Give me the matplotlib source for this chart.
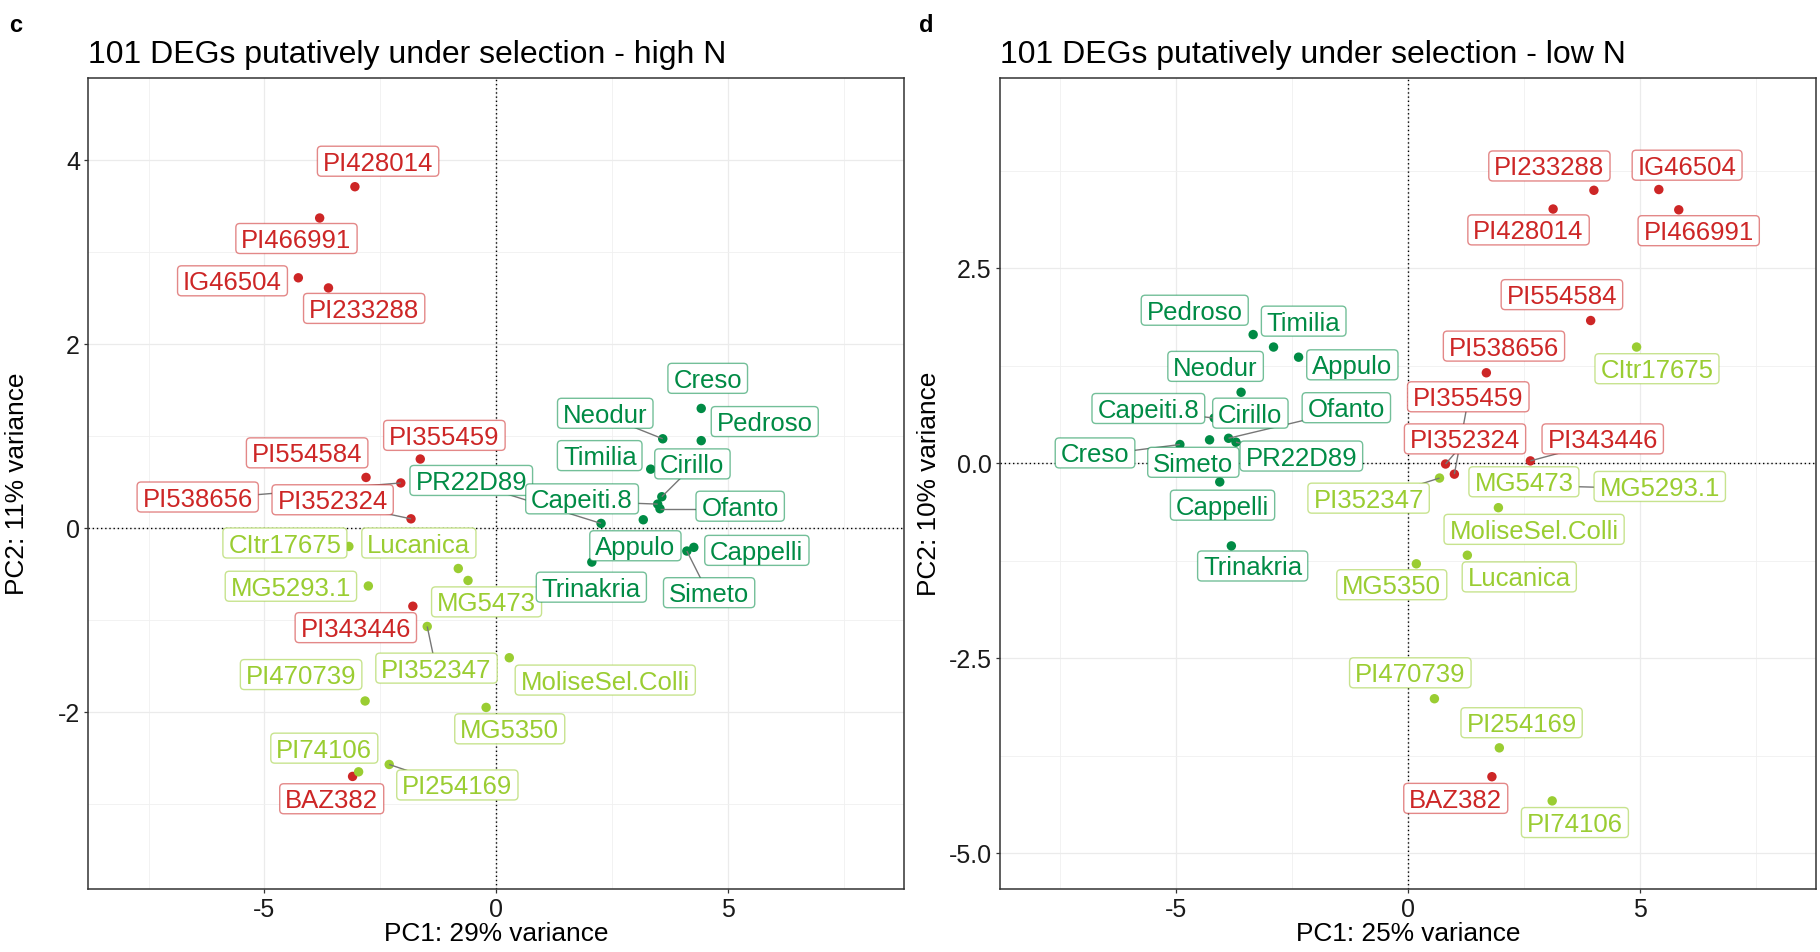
import matplotlib
matplotlib.use("Agg")
import matplotlib.pyplot as plt
from matplotlib.patches import FancyBboxPatch
from matplotlib.transforms import IdentityTransform
from matplotlib.colors import to_rgba

plt.rcParams['font.family'] = ['Liberation Sans', 'DejaVu Sans']
plt.rcParams['axes.unicode_minus'] = False

# accessions and their group
names = ['PI428014', 'PI466991', 'IG46504', 'PI233288', 'PI355459', 'PI554584',
         'PI538656', 'PI352324', 'PI343446', 'BAZ382',
         'CItr17675', 'Lucanica', 'MG5293.1', 'MG5473', 'PI352347', 'MoliseSel.Colli',
         'PI470739', 'MG5350', 'PI74106', 'PI254169',
         'Creso', 'Neodur', 'Pedroso', 'Timilia', 'Cirillo', 'Ofanto', 'Appulo',
         'Cappelli', 'Trinakria', 'Simeto', 'PR22D89', 'Capeiti.8']
groups = ['red'] * 10 + ['light'] * 10 + ['dark'] * 12

# PCA scores, high N
pc1_high = [-3.05, -3.81, -4.27, -3.62, -1.64, -2.81, -2.06, -1.84, -1.80, -3.10,
            -3.18, -0.82, -2.76, -0.61, -1.49, 0.28, -2.83, -0.22, -2.97, -2.31,
            4.42, 3.59, 4.42, 3.33, 3.57, 3.53, 3.17, 4.26, 2.06, 4.11, 2.26, 3.48]
pc2_high = [3.71, 3.37, 2.72, 2.61, 0.75, 0.55, 0.49, 0.10, -0.85, -2.70,
            -0.20, -0.44, -0.63, -0.57, -1.07, -1.41, -1.88, -1.95, -2.65, -2.57,
            1.30, 0.97, 0.95, 0.64, 0.34, 0.21, 0.09, -0.21, -0.37, -0.25, 0.05, 0.26]

# PCA scores, low N
pc1_low = [3.13, 5.84, 5.41, 4.01, 1.00, 3.94, 1.69, 0.81, 2.64, 1.81,
           4.93, 1.28, 2.35, 2.25, 0.68, 1.95, 0.57, 0.18, 3.11, 1.97,
           -4.92, -3.60, -3.34, -2.90, -3.75, -3.87, -2.36, -4.06, -3.81, -4.28, -3.71, -4.18]
pc2_low = [3.26, 3.25, 3.51, 3.50, -0.14, 1.83, 1.16, -0.01, 0.03, -4.02,
           1.49, -1.18, -0.28, -0.22, -0.19, -0.57, -3.02, -1.29, -4.33, -3.65,
           0.24, 0.91, 1.65, 1.49, 0.55, 0.32, 1.36, -0.24, -1.06, 0.30, 0.27, 0.58]

group_colors = {'red': '#CD2626', 'light': '#9ACD32', 'dark': '#008B45'}

# label placement (repelled positions)
labels_high = {
    'PI428014': (-2.55, 3.96), 'PI466991': (-4.31, 3.12), 'IG46504': (-5.69, 2.66),
    'PI233288': (-2.85, 2.36), 'PI355459': (-1.12, 0.98), 'PI554584': (-4.08, 0.79),
    'PI538656': (-6.44, 0.31), 'PI352324': (-3.53, 0.28), 'PI343446': (-3.03, -1.11),
    'BAZ382': (-3.55, -2.97), 'CItr17675': (-4.56, -0.19), 'Lucanica': (-1.67, -0.19),
    'MG5293.1': (-4.43, -0.66), 'MG5473': (-0.21, -0.83), 'PI352347': (-1.29, -1.55),
    'MoliseSel.Colli': (2.35, -1.68), 'PI470739': (-4.21, -1.62), 'MG5350': (0.29, -2.21),
    'PI74106': (-3.71, -2.42), 'PI254169': (-0.84, -2.82), 'Creso': (4.56, 1.60),
    'Neodur': (2.35, 1.22), 'Pedroso': (5.79, 1.13), 'Timilia': (2.23, 0.76),
    'Cirillo': (4.23, 0.67), 'Ofanto': (5.26, 0.21), 'Appulo': (3.00, -0.22),
    'Cappelli': (5.62, -0.27), 'Trinakria': (2.05, -0.67), 'Simeto': (4.59, -0.73),
    'PR22D89': (-0.54, 0.49), 'Capeiti.8': (1.85, 0.29),
}
labels_low = {
    'PI428014': (2.60, 2.96), 'PI466991': (6.27, 2.95), 'IG46504': (6.02, 3.79),
    'PI233288': (3.05, 3.78), 'PI355459': (1.30, 0.82), 'PI554584': (3.32, 2.13),
    'PI538656': (2.07, 1.47), 'PI352324': (1.23, 0.28), 'PI343446': (4.20, 0.28),
    'BAZ382': (1.03, -4.33), 'CItr17675': (5.37, 1.18), 'Lucanica': (2.40, -1.49),
    'MG5293.1': (5.43, -0.33), 'MG5473': (2.50, -0.27), 'PI352347': (-0.85, -0.48),
    'MoliseSel.Colli': (2.72, -0.88), 'PI470739': (0.05, -2.72), 'MG5350': (-0.35, -1.59),
    'PI74106': (3.60, -4.64), 'PI254169': (2.45, -3.36), 'Creso': (-6.75, 0.10),
    'Neodur': (-4.15, 1.21), 'Pedroso': (-4.60, 1.93), 'Timilia': (-2.25, 1.79),
    'Cirillo': (-3.40, 0.61), 'Ofanto': (-1.33, 0.68), 'Appulo': (-1.20, 1.23),
    'Cappelli': (-4.00, -0.57), 'Trinakria': (-3.35, -1.35), 'Simeto': (-4.63, -0.02),
    'PR22D89': (-2.30, 0.06), 'Capeiti.8': (-5.60, 0.67),
}
segments_high = {'PI538656', 'PI352324', 'PR22D89', 'Capeiti.8', 'Cirillo', 'Ofanto',
                 'Neodur', 'Simeto', 'PI352347', 'PI254169'}
segments_low = {'Creso', 'Capeiti.8', 'Ofanto', 'PR22D89', 'PI355459', 'PI352324',
                'PI343446', 'PI352347', 'MG5293.1'}

fig = plt.figure(figsize=(18.2, 9.52), dpi=100)
ax_l = fig.add_axes([0.04852, 0.06586, 0.44835, 0.85252])
ax_r = fig.add_axes([0.54945, 0.06586, 0.44835, 0.85252])

all_texts = []


def pca_panel(ax, pc1, pc2, labels, segs, title, xlab, ylab, ylim, yticks, yminor, ytl):
    ax.set_xlim(-8.8, 8.8)
    ax.set_ylim(*ylim)
    ax.set_xticks([-5, 0, 5])
    ax.set_xticks([-7.5, -2.5, 2.5, 7.5], minor=True)
    ax.set_yticks(yticks)
    ax.set_yticklabels(ytl)
    ax.set_yticks(yminor, minor=True)
    ax.grid(True, which='major', color='#EBEBEB', lw=0.9, zorder=0)
    ax.grid(True, which='minor', color='#F0F0F0', lw=0.6, zorder=0)
    ax.set_axisbelow(True)
    ax.tick_params(which='major', length=3, width=0.9, color='#333333',
                   labelsize=18, labelcolor='#1a1a1a', pad=3)
    ax.tick_params(which='minor', length=0)
    for sp in ax.spines.values():
        sp.set_color('#333333')
        sp.set_linewidth(1.1)
    ax.axhline(0, color='black', lw=1.0, ls=(0, (1, 2)), zorder=1)
    ax.axvline(0, color='black', lw=1.0, ls=(0, (1, 2)), zorder=1)

    cols = [group_colors[g] for g in groups]
    ax.scatter(pc1, pc2, c=cols, s=46, linewidths=0, zorder=2)

    for i, n in enumerate(names):
        lx, ly = labels[n]
        if n in segs:
            ax.plot([lx, pc1[i]], [ly, pc2[i]], color='#777777', lw=1.0, zorder=3,
                    solid_capstyle='butt')
    for i, n in enumerate(names):
        lx, ly = labels[n]
        t = ax.text(lx, ly, n, ha='center', va='center', fontsize=18.5,
                    color=cols[i], zorder=10 + 2 * i + 1)
        all_texts.append((ax, t, cols[i], 10 + 2 * i))

    ax.set_title(title, loc='left', fontsize=23, pad=10.5)
    ax.set_xlabel(xlab, fontsize=18.9)
    ax.set_ylabel(ylab, fontsize=18.9)
    ax.xaxis.set_label_coords(0.5, -0.0403)
    ax.yaxis.set_label_coords(-0.0725, 0.5)


pca_panel(ax_l, pc1_high, pc2_high, labels_high, segments_high,
          '101 DEGs putatively under selection - high N',
          'PC1: 29% variance', 'PC2: 11% variance',
          (-3.927, 4.895), [-2, 0, 2, 4], [-3, -1, 1, 3], ['-2', '0', '2', '4'])
pca_panel(ax_r, pc1_low, pc2_low, labels_low, segments_low,
          '101 DEGs putatively under selection - low N',
          'PC1: 25% variance', 'PC2: 10% variance',
          (-5.464, 4.944), [-5, -2.5, 0, 2.5], [-3.75, -1.25, 1.25, 3.75],
          ['-5.0', '-2.5', '0.0', '2.5'])

fig.text(9 / 1820, 1 - 31.7 / 952, 'c', fontsize=17, fontweight='bold', va='baseline')
fig.text(919 / 1820, 1 - 31.7 / 952, 'd', fontsize=17, fontweight='bold', va='baseline')

# rounded label boxes sized from the rendered text
fig.canvas.draw()
renderer = fig.canvas.get_renderer()
for ax, t, c, z in all_texts:
    bb = t.get_window_extent(renderer)
    box = FancyBboxPatch((bb.x0 - 5.5, bb.y0 - 0.5), bb.width + 11, bb.height + 6.0,
                         boxstyle='round,pad=0,rounding_size=4',
                         transform=IdentityTransform(), facecolor='white',
                         edgecolor=to_rgba(c, 0.55), lw=1.0, zorder=z, clip_on=False)
    ax.add_patch(box)

fig.savefig('out.png', dpi=100)
